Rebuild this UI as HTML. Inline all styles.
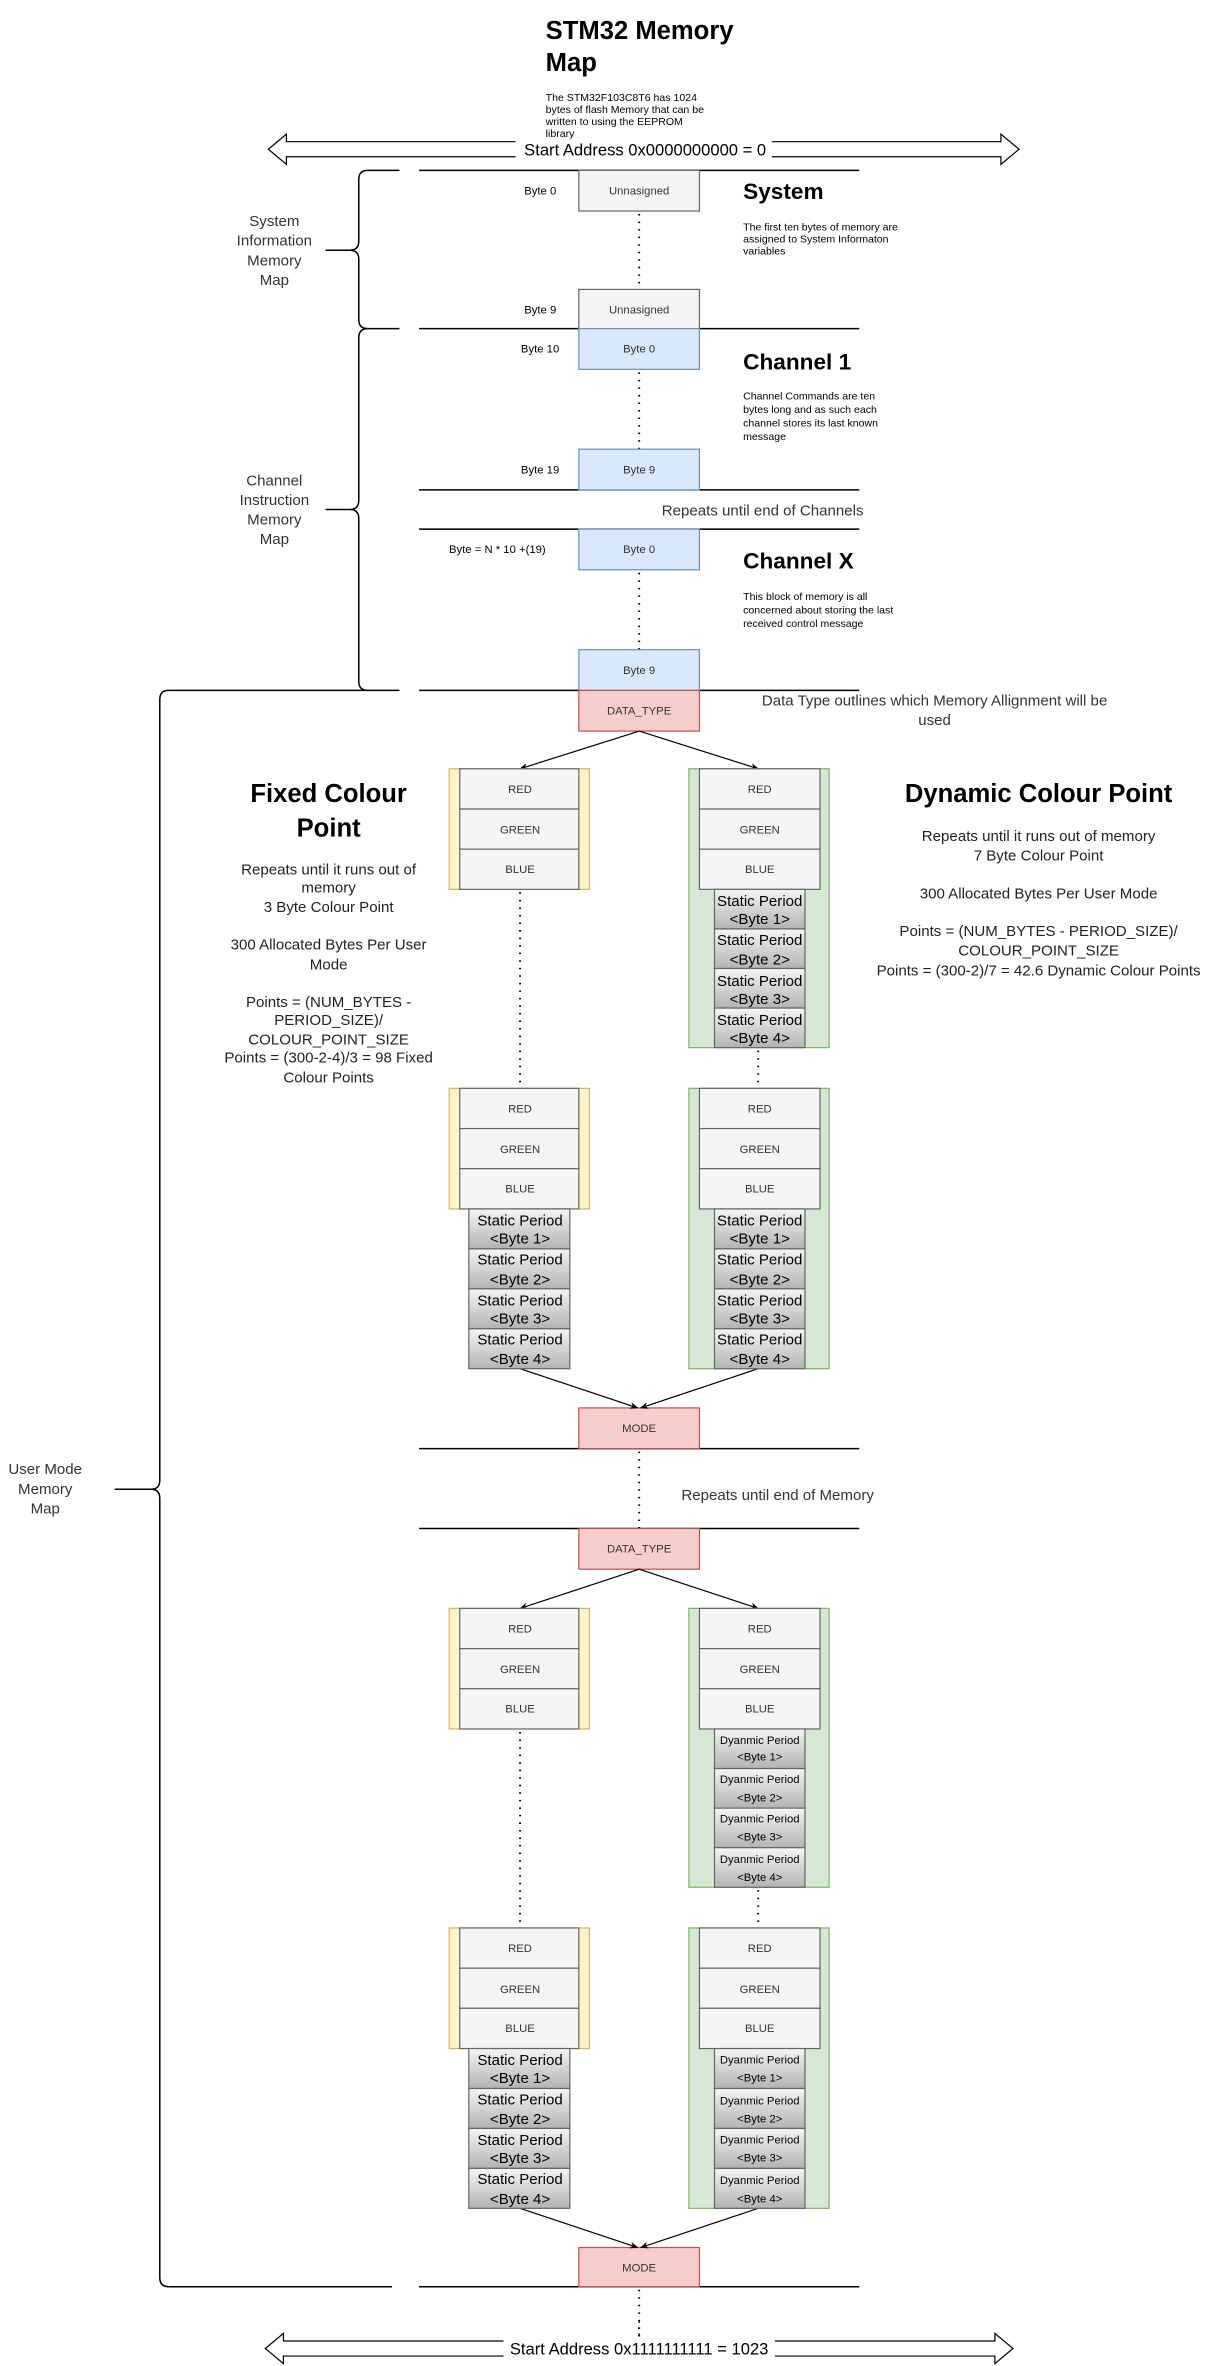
<!DOCTYPE html>
<html><head><meta charset="utf-8"><style>
html,body{margin:0;padding:0;background:#fff;}
svg{display:block;}
text{font-family:"Liberation Sans",Arial,sans-serif;}
</style></head><body>
<svg xmlns="http://www.w3.org/2000/svg" width="1221" height="2366" viewBox="0 0 810 1569.6">
<defs>
<linearGradient id="g" x1="0" y1="0" x2="0" y2="1"><stop offset="0" stop-color="#f5f5f5"/><stop offset="1" stop-color="#b3b3b3"/></linearGradient>
<marker id="ah" viewBox="0 0 10 10" refX="9" refY="5" markerWidth="7" markerHeight="7" orient="auto"><path d="M0,1 L10,5 L0,9 L3,5 Z" fill="#000"/></marker>
</defs>

<!-- Title -->
<text x="362" y="26" font-size="17" font-weight="bold" fill="#000">STM32 Memory</text>
<text x="362" y="47" font-size="17" font-weight="bold" fill="#000">Map</text>
<g font-size="7" fill="#000">
<text x="362" y="67">The STM32F103C8T6 has 1024</text>
<text x="362" y="75">bytes of flash Memory that can be</text>
<text x="362" y="83">written to using the EEPROM</text>
<text x="362" y="91">library</text>
</g>

<!-- Top double arrow -->
<path d="M178,99 L190,89 L190,94 L664,94 L664,89 L676,99 L664,109 L664,104 L190,104 L190,109 Z" fill="#fff" stroke="#000" stroke-width="0.8"/>
<rect x="342" y="92" width="170" height="14" fill="#fff"/>
<text x="428" y="103" font-size="11" text-anchor="middle" fill="#000">Start Address 0x0000000000 = 0</text>

<!-- Horizontal lines -->
<g stroke="#000" stroke-width="1">
<line x1="278" y1="113" x2="570" y2="113"/>
<line x1="278" y1="218" x2="570" y2="218"/>
<line x1="278" y1="325" x2="570" y2="325"/>
<line x1="278" y1="351" x2="570" y2="351"/>
<line x1="278" y1="458" x2="570" y2="458"/>
<line x1="278" y1="961" x2="570" y2="961"/>
<line x1="278" y1="1014" x2="570" y2="1014"/>
<line x1="278" y1="1517" x2="570" y2="1517"/>
<line x1="244" y1="113" x2="265" y2="113"/>
<line x1="244" y1="218" x2="265" y2="218"/>
<line x1="112" y1="458" x2="265" y2="458"/>
<line x1="112" y1="1517" x2="260" y2="1517"/>
</g>

<!-- Braces -->
<g fill="none" stroke="#000" stroke-width="1">
<path d="M244,113 Q238,113 238,119 L238,160 Q238,166 232,166 L216,166 M232,166 Q238,166 238,172 L238,212 Q238,218 244,218"/>
<path d="M244,218 Q238,218 238,224 L238,332 Q238,338 232,338 L216,338 M232,338 Q238,338 238,344 L238,452 Q238,458 244,458"/>
<path d="M112,458 Q106,458 106,464 L106,982 Q106,988 100,988 L76,988 M100,988 Q106,988 106,994 L106,1511 Q106,1517 112,1517"/>
</g>
<g font-size="10" fill="#333" text-anchor="middle">
<text x="182" y="150">System</text><text x="182" y="163">Information</text><text x="182" y="176">Memory</text><text x="182" y="189">Map</text>
<text x="182" y="322">Channel</text><text x="182" y="335">Instruction</text><text x="182" y="348">Memory</text><text x="182" y="361">Map</text>
<text x="30" y="978">User Mode</text><text x="30" y="991">Memory</text><text x="30" y="1004">Map</text>
</g>

<!-- dotted verticals -->
<g stroke="#000" stroke-width="1.3" stroke-dasharray="1,4" fill="none">
<line x1="424" y1="142" x2="424" y2="192"/>
<line x1="424" y1="247" x2="424" y2="298"/>
<line x1="424" y1="380" x2="424" y2="431"/>
<line x1="424" y1="963" x2="424" y2="1014"/>
<line x1="424" y1="1519" x2="424" y2="1555"/>
<line x1="345" y1="592" x2="345" y2="722"/>
<line x1="503" y1="697" x2="503" y2="722"/>
<line x1="345" y1="1149" x2="345" y2="1279"/>
<line x1="503" y1="1254" x2="503" y2="1279"/>
</g>

<!-- System / channel boxes -->
<g stroke-width="0.8">
<rect x="384" y="113" width="80" height="27" fill="#f5f5f5" stroke="#666"/>
<rect x="384" y="192" width="80" height="26" fill="#f5f5f5" stroke="#666"/>
<rect x="384" y="218" width="80" height="27" fill="#dae8fc" stroke="#6c8ebf"/>
<rect x="384" y="298" width="80" height="27" fill="#dae8fc" stroke="#6c8ebf"/>
<rect x="384" y="351" width="80" height="27" fill="#dae8fc" stroke="#6c8ebf"/>
<rect x="384" y="431" width="80" height="27" fill="#dae8fc" stroke="#6c8ebf"/>
<rect x="384" y="458" width="80" height="27" fill="#f8cecc" stroke="#b85450"/>
<rect x="384" y="934" width="80" height="27" fill="#f8cecc" stroke="#b85450"/>
<rect x="384" y="1014" width="80" height="27" fill="#f8cecc" stroke="#b85450"/>
<rect x="384" y="1491" width="80" height="26" fill="#f8cecc" stroke="#b85450"/>
</g>
<g font-size="7.5" text-anchor="middle" fill="#333">
<text x="424" y="129">Unnasigned</text>
<text x="424" y="208">Unnasigned</text>
<text x="424" y="234">Byte 0</text>
<text x="424" y="314">Byte 9</text>
<text x="424" y="367">Byte 0</text>
<text x="424" y="447">Byte 9</text>
<text x="424" y="474">DATA_TYPE</text>
<text x="424" y="950">MODE</text>
<text x="424" y="1030">DATA_TYPE</text>
<text x="424" y="1507">MODE</text>
</g>
<g font-size="7.5" text-anchor="end" fill="#000">
<text x="369" y="129">Byte 0</text>
<text x="369" y="208">Byte 9</text>
<text x="371" y="234">Byte 10</text>
<text x="371" y="314">Byte 19</text>
<text x="362" y="367">Byte = N * 10 +(19)</text>
</g>

<!-- Section headings -->
<g fill="#000">
<text x="493" y="132" font-size="15" font-weight="bold">System</text>
<text x="493" y="245" font-size="15" font-weight="bold">Channel 1</text>
<text x="493" y="377" font-size="15" font-weight="bold">Channel X</text>
<g font-size="7">
<text x="493" y="153">The first ten bytes of memory are</text>
<text x="493" y="161">assigned to System Informaton</text>
<text x="493" y="169">variables</text>
<text x="493" y="265">Channel Commands are ten</text>
<text x="493" y="274">bytes long and as such each</text>
<text x="493" y="283">channel stores its last known</text>
<text x="493" y="292">message</text>
<text x="493" y="398">This block of memory is all</text>
<text x="493" y="407">concerned about storing the last</text>
<text x="493" y="416">received control message</text>
</g>
<g font-size="10" fill="#333">
<text x="439" y="342">Repeats until end of Channels</text>
<text x="452" y="995">Repeats until end of Memory</text>
<text x="620" y="468" text-anchor="middle">Data Type outlines which Memory Allignment will be</text>
<text x="620" y="481" text-anchor="middle">used</text>
</g>
</g>

<!-- Fixed / Dynamic headings -->
<g fill="#000" text-anchor="middle">
<text x="218" y="532" font-size="17" font-weight="bold">Fixed Colour</text>
<text x="218" y="555" font-size="17" font-weight="bold">Point</text>
<text x="689" y="532" font-size="17" font-weight="bold">Dynamic Colour Point</text>
<g font-size="10" fill="#222">
<text x="218" y="580">Repeats until it runs out of</text>
<text x="218" y="592">memory</text>
<text x="218" y="605">3 Byte Colour Point</text>
<text x="218" y="630">300 Allocated Bytes Per User</text>
<text x="218" y="643">Mode</text>
<text x="218" y="668">Points = (NUM_BYTES -</text>
<text x="218" y="680">PERIOD_SIZE)/</text>
<text x="218" y="693">COLOUR_POINT_SIZE</text>
<text x="218" y="705">Points = (300-2-4)/3 = 98 Fixed</text>
<text x="218" y="718">Colour Points</text>
<text x="689" y="558">Repeats until it runs out of memory</text>
<text x="689" y="571">7 Byte Colour Point</text>
<text x="689" y="596">300 Allocated Bytes Per User Mode</text>
<text x="689" y="621">Points = (NUM_BYTES - PERIOD_SIZE)/</text>
<text x="689" y="634">COLOUR_POINT_SIZE</text>
<text x="689" y="647">Points = (300-2)/7 = 42.6 Dynamic Colour Points</text>
</g>
</g>

<!-- Arrows -->
<g stroke="#000" stroke-width="0.8" marker-end="url(#ah)">
<line x1="424" y1="485" x2="345" y2="510"/>
<line x1="424" y1="485" x2="503" y2="510"/>
<line x1="345" y1="908" x2="423" y2="934"/>
<line x1="503" y1="908" x2="425" y2="934"/>
<line x1="424" y1="1041" x2="345" y2="1067"/>
<line x1="424" y1="1041" x2="503" y2="1067"/>
<line x1="345" y1="1465" x2="423" y2="1491"/>
<line x1="503" y1="1465" x2="425" y2="1491"/>
</g>

<!-- Containers -->
<g stroke-width="0.8">
<rect x="298" y="510" width="93" height="80" fill="#fff2cc" stroke="#d6b656"/>
<rect x="298" y="722" width="93" height="80" fill="#fff2cc" stroke="#d6b656"/>
<rect x="298" y="1067" width="93" height="80" fill="#fff2cc" stroke="#d6b656"/>
<rect x="298" y="1279" width="93" height="80" fill="#fff2cc" stroke="#d6b656"/>
<rect x="457" y="510" width="93" height="185" fill="#d5e8d4" stroke="#82b366"/>
<rect x="457" y="722" width="93" height="186" fill="#d5e8d4" stroke="#82b366"/>
<rect x="457" y="1067" width="93" height="185" fill="#d5e8d4" stroke="#82b366"/>
<rect x="457" y="1279" width="93" height="186" fill="#d5e8d4" stroke="#82b366"/>
</g>

<!-- RGB boxes -->
<g fill="#f5f5f5" stroke="#666" stroke-width="0.8">
<rect x="305" y="510" width="79" height="26.7"/><rect x="305" y="536.7" width="79" height="26.6"/><rect x="305" y="563.3" width="79" height="26.7"/>
<rect x="305" y="722" width="79" height="26.7"/><rect x="305" y="748.7" width="79" height="26.6"/><rect x="305" y="775.3" width="79" height="26.7"/>
<rect x="305" y="1067" width="79" height="26.7"/><rect x="305" y="1093.7" width="79" height="26.6"/><rect x="305" y="1120.3" width="79" height="26.7"/>
<rect x="305" y="1279" width="79" height="26.7"/><rect x="305" y="1305.7" width="79" height="26.6"/><rect x="305" y="1332.3" width="79" height="26.7"/>
<rect x="464" y="510" width="80" height="26.7"/><rect x="464" y="536.7" width="80" height="26.6"/><rect x="464" y="563.3" width="80" height="26.7"/>
<rect x="464" y="722" width="80" height="26.7"/><rect x="464" y="748.7" width="80" height="26.6"/><rect x="464" y="775.3" width="80" height="26.7"/>
<rect x="464" y="1067" width="80" height="26.7"/><rect x="464" y="1093.7" width="80" height="26.6"/><rect x="464" y="1120.3" width="80" height="26.7"/>
<rect x="464" y="1279" width="80" height="26.7"/><rect x="464" y="1305.7" width="80" height="26.6"/><rect x="464" y="1332.3" width="80" height="26.7"/>
</g>
<g font-size="7.5" fill="#333" text-anchor="middle">
<text x="345" y="526">RED</text><text x="345" y="553">GREEN</text><text x="345" y="579">BLUE</text>
<text x="345" y="738">RED</text><text x="345" y="765">GREEN</text><text x="345" y="791">BLUE</text>
<text x="345" y="1083">RED</text><text x="345" y="1110">GREEN</text><text x="345" y="1136">BLUE</text>
<text x="345" y="1295">RED</text><text x="345" y="1322">GREEN</text><text x="345" y="1348">BLUE</text>
<text x="504" y="526">RED</text><text x="504" y="553">GREEN</text><text x="504" y="579">BLUE</text>
<text x="504" y="738">RED</text><text x="504" y="765">GREEN</text><text x="504" y="791">BLUE</text>
<text x="504" y="1083">RED</text><text x="504" y="1110">GREEN</text><text x="504" y="1136">BLUE</text>
<text x="504" y="1295">RED</text><text x="504" y="1322">GREEN</text><text x="504" y="1348">BLUE</text>
</g>

<!-- Period boxes -->
<g fill="url(#g)" stroke="#666" stroke-width="0.8">
<rect x="474" y="590" width="60" height="26.25"/><rect x="474" y="616.25" width="60" height="26.25"/><rect x="474" y="642.5" width="60" height="26.25"/><rect x="474" y="668.75" width="60" height="26.25"/>
<rect x="474" y="802" width="60" height="26.5"/><rect x="474" y="828.5" width="60" height="26.5"/><rect x="474" y="855" width="60" height="26.5"/><rect x="474" y="881.5" width="60" height="26.5"/>
<rect x="311" y="802" width="67" height="26.5"/><rect x="311" y="828.5" width="67" height="26.5"/><rect x="311" y="855" width="67" height="26.5"/><rect x="311" y="881.5" width="67" height="26.5"/>
<rect x="474" y="1147" width="60" height="26.25"/><rect x="474" y="1173.25" width="60" height="26.25"/><rect x="474" y="1199.5" width="60" height="26.25"/><rect x="474" y="1225.75" width="60" height="26.25"/>
<rect x="474" y="1359" width="60" height="26.5"/><rect x="474" y="1385.5" width="60" height="26.5"/><rect x="474" y="1412" width="60" height="26.5"/><rect x="474" y="1438.5" width="60" height="26.5"/>
<rect x="311" y="1359" width="67" height="26.5"/><rect x="311" y="1385.5" width="67" height="26.5"/><rect x="311" y="1412" width="67" height="26.5"/><rect x="311" y="1438.5" width="67" height="26.5"/>
</g>
<g font-size="10" fill="#000" text-anchor="middle">
<text x="504" y="601">Static Period</text><text x="504" y="613">&lt;Byte 1&gt;</text>
<text x="504" y="627">Static Period</text><text x="504" y="640">&lt;Byte 2&gt;</text>
<text x="504" y="654">Static Period</text><text x="504" y="666">&lt;Byte 3&gt;</text>
<text x="504" y="680">Static Period</text><text x="504" y="692">&lt;Byte 4&gt;</text>
<text x="504" y="813">Static Period</text><text x="504" y="825">&lt;Byte 1&gt;</text>
<text x="504" y="839">Static Period</text><text x="504" y="852">&lt;Byte 2&gt;</text>
<text x="504" y="866">Static Period</text><text x="504" y="878">&lt;Byte 3&gt;</text>
<text x="504" y="892">Static Period</text><text x="504" y="905">&lt;Byte 4&gt;</text>
<text x="345" y="813">Static Period</text><text x="345" y="825">&lt;Byte 1&gt;</text>
<text x="345" y="839">Static Period</text><text x="345" y="852">&lt;Byte 2&gt;</text>
<text x="345" y="866">Static Period</text><text x="345" y="878">&lt;Byte 3&gt;</text>
<text x="345" y="892">Static Period</text><text x="345" y="905">&lt;Byte 4&gt;</text>
<text x="345" y="1370">Static Period</text><text x="345" y="1382">&lt;Byte 1&gt;</text>
<text x="345" y="1396">Static Period</text><text x="345" y="1409">&lt;Byte 2&gt;</text>
<text x="345" y="1423">Static Period</text><text x="345" y="1435">&lt;Byte 3&gt;</text>
<text x="345" y="1449">Static Period</text><text x="345" y="1462">&lt;Byte 4&gt;</text>
</g>
<g font-size="7.5" fill="#000" text-anchor="middle">
<text x="504" y="1157">Dyanmic Period</text><text x="504" y="1168">&lt;Byte 1&gt;</text>
<text x="504" y="1183">Dyanmic Period</text><text x="504" y="1195">&lt;Byte 2&gt;</text>
<text x="504" y="1209">Dyanmic Period</text><text x="504" y="1221">&lt;Byte 3&gt;</text>
<text x="504" y="1236">Dyanmic Period</text><text x="504" y="1248">&lt;Byte 4&gt;</text>
<text x="504" y="1369">Dyanmic Period</text><text x="504" y="1381">&lt;Byte 1&gt;</text>
<text x="504" y="1396">Dyanmic Period</text><text x="504" y="1408">&lt;Byte 2&gt;</text>
<text x="504" y="1422">Dyanmic Period</text><text x="504" y="1434">&lt;Byte 3&gt;</text>
<text x="504" y="1449">Dyanmic Period</text><text x="504" y="1461">&lt;Byte 4&gt;</text>
</g>

<!-- Bottom double arrow -->
<path d="M176,1558 L188,1548 L188,1553 L660,1553 L660,1548 L672,1558 L660,1568 L660,1563 L188,1563 L188,1568 Z" fill="#fff" stroke="#000" stroke-width="0.8"/>
<rect x="334" y="1551" width="180" height="14" fill="#fff"/>
<line x1="424" y1="1540" x2="424" y2="1551" stroke="#000" stroke-width="1" stroke-dasharray="1,3"/>
<text x="424" y="1562" font-size="11" text-anchor="middle" fill="#000">Start Address 0x1111111111 = 1023</text>
</svg>
</body></html>
